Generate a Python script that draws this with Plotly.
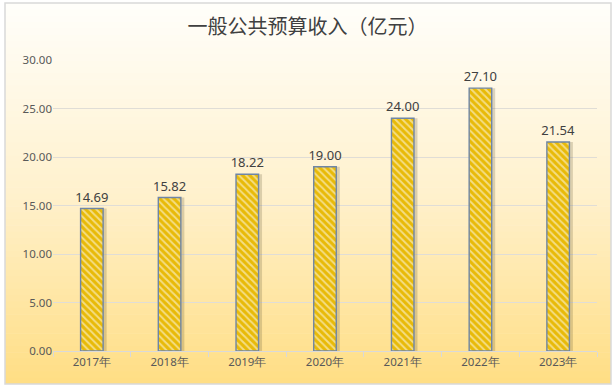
import plotly.graph_objects as go

years = ["2017年", "2018年", "2019年", "2020年", "2021年", "2022年", "2023年"]
revenue = [14.69, 15.82, 18.22, 19.00, 24.00, 27.10, 21.54]
y_ticks = [0, 5, 10, 15, 20, 25, 30]
title_text = "一般公共预算收入（亿元）"

BW = 0.29
fig = go.Figure()
# soft shadow behind bars
fig.add_trace(go.Bar(
    x=years, y=revenue, width=BW, offset=-BW / 2 + 0.045,
    marker=dict(color="rgba(90,80,50,0.22)", line=dict(width=0)),
    hoverinfo="skip",
))
fig.add_trace(go.Bar(
    x=years, y=revenue,
    width=BW, offset=-BW / 2,
    marker=dict(
        color="#E8BA08",
        line=dict(color="#6F86A6", width=1.4),
        pattern=dict(shape="\\", fgcolor="#FFFFFF", bgcolor="#E8BA08", size=5, solidity=0.4, fillmode="overlay"),
    ),
    text=[f"{v:.2f}" for v in revenue],
    textposition="outside",
    constraintext="none",
    textfont=dict(family="Noto Sans, sans-serif", size=13, color="#404040"),
    cliponaxis=False,
))

W, H = 615, 392
l, r, t_, b = 53, 18, 60, 41
pw, ph = W - l - r, H - t_ - b
def fx(px):
    return (px - l) / pw
def fy(py):
    return (H - py - b) / ph

fx0, fx1, fyt, fyb = 5, 611, 3, 384
shapes = []
n = 60
top = (255, 254, 250)
mid = (255, 241, 205)
bot = (255, 222, 133)
for i in range(n):
    t = i / (n - 1)
    if t < 0.5:
        s = t / 0.5
        c = tuple(round(top[k] + (mid[k] - top[k]) * s) for k in range(3))
    else:
        s = (t - 0.5) / 0.5
        c = tuple(round(mid[k] + (bot[k] - mid[k]) * s) for k in range(3))
    ya = fyt + (fyb - fyt) * i / n
    yb_ = fyt + (fyb - fyt) * (i + 1) / n + 0.6
    shapes.append(dict(type="rect", xref="paper", yref="paper", x0=fx(fx0), x1=fx(fx1),
                       y0=fy(min(yb_, fyb)), y1=fy(ya),
                       fillcolor=f"rgb{c}", line=dict(width=0), layer="below"))
shapes.append(dict(type="rect", xref="paper", yref="paper", x0=fx(fx0), x1=fx(fx1), y0=fy(fyb), y1=fy(fyt),
                   fillcolor="rgba(0,0,0,0)", line=dict(color="#D9D9D9", width=1.5), layer="below"))

fig.update_layout(
    width=W, height=H,
    margin=dict(l=l, r=r, t=t_, b=b),
    paper_bgcolor="white",
    plot_bgcolor="rgba(0,0,0,0)",
    barmode="overlay",
    title=dict(text=title_text, x=0.5, xanchor="center", y=1 - 27 / H, yanchor="middle",
               font=dict(family="Noto Sans CJK SC, sans-serif", size=20, color="#404040")),
    showlegend=False,
    xaxis=dict(showgrid=False, showline=True, linecolor="#D9D9D9", ticks="outside", tickcolor="#D9D9D9",
               ticklen=5, tickson="boundaries",
               tickfont=dict(family="Noto Sans, sans-serif", size=11.5, color="#595959")),
    yaxis=dict(range=[0, 30], tickvals=y_ticks, tickformat=".2f", showgrid=True, gridcolor="#E0DDD6",
               zeroline=False, showline=False,
               tickfont=dict(family="Noto Sans, sans-serif", size=11.5, color="#595959")),
    shapes=shapes,
)

fig.write_html("out.html", config={"displayModeBar": False},
               post_script="document.body.style.margin='0';")
